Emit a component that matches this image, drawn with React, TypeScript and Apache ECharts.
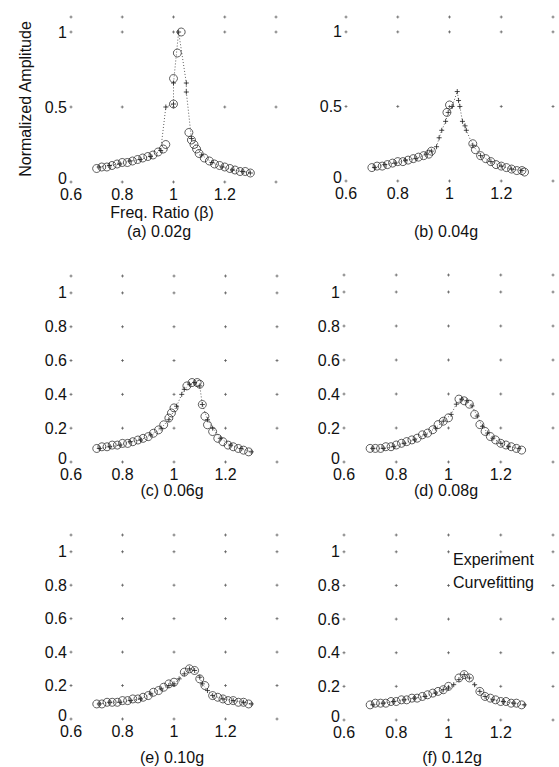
import React, { useEffect, useRef } from "react";
import * as echarts from "echarts";

// ---- data ----
const xTicks = [0.6, 0.8, 1.0, 1.2, 1.4];
const yTicksCoarse = [0, 0.5, 1.0];
const yTicksFine = [0, 0.2, 0.4, 0.6, 0.8, 1.0];
const yTop = 1.1;

const captions = ["(a) 0.02g", "(b) 0.04g", "(c) 0.06g", "(d) 0.08g", "(e) 0.10g", "(f) 0.12g"];
const legendLabels = ["Experiment", "Curvefitting"];

const expA = [
  [0.70, 0.09], [0.72, 0.10], [0.74, 0.10], [0.76, 0.11], [0.78, 0.12], [0.80, 0.13], [0.82, 0.13],
  [0.84, 0.14], [0.86, 0.15], [0.88, 0.16], [0.90, 0.17], [0.92, 0.18], [0.94, 0.20], [0.96, 0.22],
  [0.97, 0.25], [1.00, 0.52], [1.00, 0.69], [1.015, 0.86], [1.03, 1.00],
  [1.06, 0.33], [1.07, 0.28], [1.08, 0.25], [1.09, 0.22], [1.10, 0.19], [1.12, 0.16], [1.14, 0.14],
  [1.16, 0.12], [1.18, 0.11], [1.20, 0.10], [1.22, 0.09], [1.24, 0.08], [1.26, 0.07], [1.28, 0.07], [1.30, 0.06],
];
const fitA = [
  [0.71, 0.10], [0.75, 0.11], [0.79, 0.12], [0.83, 0.14], [0.87, 0.15], [0.91, 0.17], [0.95, 0.21],
  [0.97, 0.50], [1.00, 0.52], [1.00, 0.66], [1.02, 1.00], [1.05, 0.66], [1.05, 0.60], [1.07, 0.29],
  [1.11, 0.18], [1.15, 0.13], [1.19, 0.10], [1.23, 0.08], [1.27, 0.07], [1.30, 0.06],
];

const expB = [
  [0.70, 0.09], [0.72, 0.10], [0.74, 0.10], [0.76, 0.11], [0.78, 0.12], [0.80, 0.13], [0.82, 0.13],
  [0.84, 0.14], [0.86, 0.15], [0.88, 0.16], [0.90, 0.17], [0.92, 0.18], [0.93, 0.20],
  [0.99, 0.46], [1.00, 0.51],
  [1.09, 0.25], [1.10, 0.21], [1.12, 0.17], [1.14, 0.15], [1.16, 0.13], [1.18, 0.11], [1.20, 0.10],
  [1.22, 0.09], [1.24, 0.08], [1.26, 0.07], [1.28, 0.07], [1.29, 0.06],
];
const fitB = [
  [0.71, 0.09], [0.75, 0.11], [0.79, 0.12], [0.83, 0.14], [0.87, 0.15], [0.91, 0.18], [0.93, 0.20],
  [0.95, 0.23], [0.96, 0.29], [0.97, 0.34], [0.985, 0.40], [0.995, 0.46], [1.01, 0.50], [1.03, 0.60],
  [1.035, 0.54], [1.04, 0.50], [1.05, 0.40], [1.06, 0.37], [1.065, 0.34], [1.09, 0.24], [1.12, 0.17],
  [1.16, 0.13], [1.20, 0.10], [1.24, 0.08], [1.28, 0.07],
];

const expC = [
  [0.70, 0.08], [0.72, 0.09], [0.74, 0.09], [0.76, 0.10], [0.78, 0.10], [0.80, 0.11], [0.82, 0.11],
  [0.84, 0.12], [0.86, 0.13], [0.88, 0.14], [0.90, 0.15], [0.92, 0.17], [0.94, 0.19], [0.96, 0.22],
  [0.98, 0.26], [0.99, 0.29], [1.00, 0.32],
  [1.05, 0.45], [1.07, 0.47], [1.09, 0.47], [1.10, 0.46],
  [1.11, 0.34], [1.12, 0.27], [1.13, 0.22], [1.15, 0.18], [1.17, 0.14], [1.19, 0.12], [1.21, 0.10],
  [1.23, 0.09], [1.25, 0.08], [1.27, 0.07], [1.29, 0.06],
];
const fitC = [
  [0.71, 0.08], [0.75, 0.09], [0.79, 0.10], [0.83, 0.12], [0.87, 0.13], [0.91, 0.16], [0.95, 0.20],
  [0.98, 0.25], [1.01, 0.33], [1.03, 0.40], [1.04, 0.43], [1.06, 0.46], [1.08, 0.47], [1.10, 0.45],
  [1.11, 0.34], [1.13, 0.25], [1.15, 0.20], [1.18, 0.14], [1.22, 0.10], [1.26, 0.08], [1.30, 0.06],
];

const expD = [
  [0.70, 0.08], [0.72, 0.08], [0.74, 0.08], [0.76, 0.09], [0.78, 0.09], [0.80, 0.10], [0.82, 0.11],
  [0.84, 0.12], [0.86, 0.13], [0.88, 0.14], [0.90, 0.16], [0.92, 0.17], [0.94, 0.19], [0.96, 0.22],
  [0.98, 0.24], [1.00, 0.26],
  [1.04, 0.37], [1.06, 0.36], [1.08, 0.34],
  [1.10, 0.28], [1.12, 0.22], [1.14, 0.18], [1.16, 0.15], [1.18, 0.13], [1.20, 0.11], [1.22, 0.10],
  [1.24, 0.09], [1.26, 0.08], [1.28, 0.07],
];
const fitD = [
  [0.71, 0.08], [0.75, 0.08], [0.79, 0.09], [0.83, 0.11], [0.87, 0.13], [0.91, 0.16], [0.95, 0.20],
  [0.98, 0.24], [1.01, 0.28], [1.03, 0.34], [1.05, 0.37], [1.07, 0.36], [1.09, 0.33], [1.11, 0.27],
  [1.13, 0.21], [1.15, 0.17], [1.17, 0.14], [1.20, 0.11], [1.23, 0.09], [1.27, 0.08],
];

const expE = [
  [0.70, 0.09], [0.72, 0.09], [0.74, 0.10], [0.76, 0.10], [0.78, 0.10], [0.80, 0.11], [0.82, 0.11],
  [0.84, 0.12], [0.86, 0.12], [0.88, 0.13], [0.90, 0.14], [0.92, 0.16], [0.94, 0.17], [0.96, 0.19],
  [0.98, 0.21], [1.00, 0.22],
  [1.04, 0.28], [1.06, 0.30], [1.08, 0.29], [1.10, 0.24], [1.12, 0.20],
  [1.15, 0.14], [1.17, 0.13], [1.19, 0.12], [1.21, 0.11], [1.23, 0.11], [1.25, 0.10], [1.27, 0.10], [1.29, 0.09],
];
const fitE = [
  [0.71, 0.09], [0.75, 0.10], [0.79, 0.10], [0.83, 0.11], [0.87, 0.12], [0.91, 0.15], [0.95, 0.18],
  [0.98, 0.20], [1.00, 0.21], [1.02, 0.24], [1.04, 0.27], [1.06, 0.30], [1.08, 0.29], [1.10, 0.25],
  [1.11, 0.21], [1.13, 0.17], [1.15, 0.14], [1.19, 0.12], [1.23, 0.11], [1.27, 0.10], [1.30, 0.09],
];

const expF = [
  [0.70, 0.09], [0.72, 0.10], [0.74, 0.10], [0.76, 0.10], [0.78, 0.11], [0.80, 0.11], [0.82, 0.12],
  [0.84, 0.12], [0.86, 0.13], [0.88, 0.13], [0.90, 0.14], [0.92, 0.15], [0.94, 0.16], [0.96, 0.17],
  [0.98, 0.18], [1.00, 0.20],
  [1.04, 0.25], [1.06, 0.27], [1.08, 0.25], [1.12, 0.17], [1.14, 0.14],
  [1.16, 0.13], [1.18, 0.12], [1.20, 0.11], [1.22, 0.11], [1.24, 0.10], [1.26, 0.10], [1.28, 0.09],
];
const fitF = [
  [0.71, 0.09], [0.75, 0.10], [0.79, 0.11], [0.83, 0.12], [0.87, 0.13], [0.91, 0.14], [0.95, 0.16],
  [0.98, 0.18], [1.00, 0.19], [1.02, 0.21], [1.04, 0.24], [1.06, 0.27], [1.08, 0.25], [1.10, 0.21],
  [1.12, 0.17], [1.14, 0.14], [1.17, 0.12], [1.21, 0.11], [1.25, 0.10], [1.29, 0.09],
];

const expAll = [expA, expB, expC, expD, expE, expF];
const fitAll = [fitA, fitB, fitC, fitD, fitE, fitF];

// ---- layout ----
const grids = [
  { left: 71, top: 17, width: 205, height: 165 },
  { left: 346, top: 17, width: 207, height: 164 },
  { left: 71, top: 276, width: 206, height: 186 },
  { left: 344, top: 275, width: 209, height: 187 },
  { left: 71, top: 535, width: 206, height: 184 },
  { left: 344, top: 535, width: 209, height: 185 },
];
const captionPos = [
  [159, 231], [446, 231], [172, 490], [446, 490], [172, 757], [452, 757],
];

const FONT = "'Liberation Sans', Arial, Helvetica, sans-serif";
const INK = "#111";
const PLUS = "path://M0,5L10,5M5,0L5,10";

export default function App() {
  const ref = useRef<HTMLDivElement>(null);
  useEffect(() => {
    if (!ref.current) return;
    const chart = echarts.init(ref.current, null, { renderer: "svg" });
    const fmt = (v: number) => String(+v.toFixed(2));

    const xAxis: any[] = [];
    const yAxis: any[] = [];
    const series: any[] = [];
    grids.forEach((g, i) => {
      const coarse = i < 2;
      const yT = coarse ? yTicksCoarse : yTicksFine;
      xAxis.push({
        type: "value", gridIndex: i, min: 0.6, max: 1.4, interval: 0.2,
        axisLine: { show: false }, axisTick: { show: false }, splitLine: { show: false },
        axisLabel: {
          fontSize: 16, color: INK, fontFamily: FONT, margin: 4,
          formatter: (v: number) => (v > 1.3 ? "" : fmt(v)),
        },
      });
      yAxis.push({
        type: "value", gridIndex: i, min: 0, max: yTop, interval: coarse ? 0.5 : 0.2,
        axisLine: { show: false }, axisTick: { show: false }, splitLine: { show: false },
        axisLabel: {
          fontSize: 16, color: INK, fontFamily: FONT, margin: 4,
          formatter: (v: number) => (v > 1.05 ? "" : v < 0.01 ? "{z|0}" : fmt(v)),
          rich: { z: { fontSize: 16, color: INK, fontFamily: FONT, padding: [0, 0, 7, 0] } },
        },
      });
      const dots: number[][] = [];
      xTicks.forEach((x) => [...yT, yTop].forEach((y) => dots.push([x, y])));
      series.push({
        type: "scatter", xAxisIndex: i, yAxisIndex: i, data: dots, symbol: PLUS, symbolSize: 3,
        itemStyle: { color: "rgba(0,0,0,0)", borderColor: "#444", borderWidth: 0.8 }, silent: true,
      });
      series.push({
        name: legendLabels[1], type: "line", xAxisIndex: i, yAxisIndex: i, data: fitAll[i],
        symbol: PLUS, symbolSize: 5, showSymbol: true,
        lineStyle: { color: "#333", width: 0.8, type: [1, 2] },
        itemStyle: { color: "rgba(0,0,0,0)", borderColor: "#222", borderWidth: 0.8 }, silent: true,
      });
      series.push({
        name: legendLabels[0], type: "scatter", xAxisIndex: i, yAxisIndex: i, data: expAll[i],
        symbol: "circle", symbolSize: 8,
        itemStyle: { color: "rgba(0,0,0,0)", borderColor: "#222", borderWidth: 0.9 }, silent: true,
      });
    });

    const texts: any[] = captions.map((c, i) => ({
      type: "text", x: captionPos[i][0], y: captionPos[i][1],
      style: { text: c, fontSize: 16, fontFamily: FONT, fill: INK, align: "center", verticalAlign: "middle" },
    }));
    texts.push({
      type: "text", x: 162, y: 212,
      style: { text: "Freq. Ratio (β)", fontSize: 16, fontFamily: FONT, fill: INK, align: "center", verticalAlign: "middle" },
    });
    texts.push({
      type: "text", x: 25, y: 99, rotation: Math.PI / 2,
      style: { text: "Normalized Amplitude", fontSize: 16, fontFamily: FONT, fill: INK, align: "center", verticalAlign: "middle" },
    });
    legendLabels.forEach((t, k) => {
      texts.push({
        type: "text", x: 453, y: 559 + k * 23,
        style: { text: t, fontSize: 16, fontFamily: FONT, fill: INK, align: "left", verticalAlign: "middle" },
      });
    });

    chart.setOption({
      animation: false,
      backgroundColor: "#fff",
      grid: grids.map((g) => ({ ...g, containLabel: false })),
      xAxis, yAxis, series,
      graphic: texts,
    });
    return () => chart.dispose();
  }, []);
  return <div ref={ref} style={{ position: "absolute", left: 0, top: 0, width: 559, height: 767 }} />;
}
